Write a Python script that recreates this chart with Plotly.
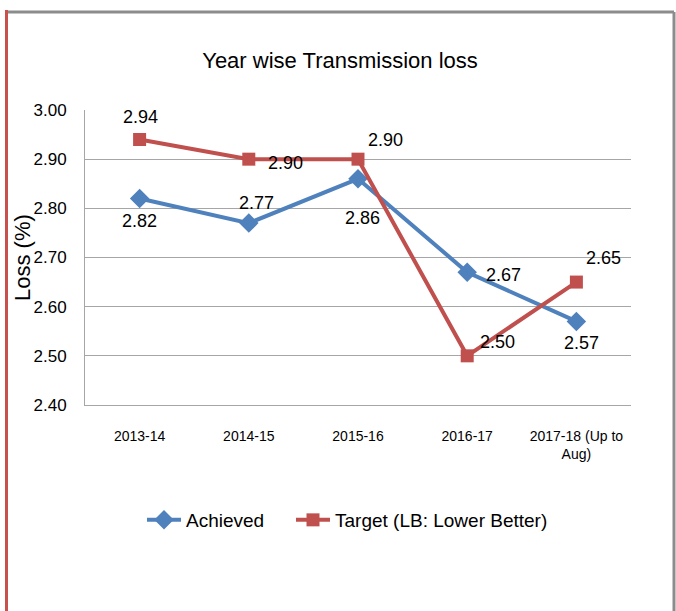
import plotly.graph_objects as go

categories = ["2013-14", "2014-15", "2015-16", "2016-17", "2017-18 (Up to<br>Aug)"]
achieved = [2.82, 2.77, 2.86, 2.67, 2.57]
target = [2.94, 2.90, 2.90, 2.50, 2.65]

# label offsets in pixels (dx, dy) relative to the marker
ach_off = [(0, -22), (8, 20), (4, -39), (36, -3), (5, -22)]
tgt_off = [(1, 23), (37, -4), (27, 19), (30, 14), (27, 24)]

BLUE = "#4F81BD"
RED = "#C0504D"
FONT = "Liberation Sans, Arial, sans-serif"

W, H = 676, 611
L, T = 85, 110
PR, PB = 631, 405
R, B = W - PR, H - PB
pw, ph = PR - L, PB - T


def px(x):
    return (x - L) / pw


def py(y):
    return (PB - y) / ph


fig = go.Figure()
fig.add_trace(go.Scatter(
    x=categories, y=achieved, name="Achieved", mode="lines+markers",
    line=dict(color=BLUE, width=4),
    marker=dict(symbol="diamond", size=15, color=BLUE),
    legend="legend",
))
fig.add_trace(go.Scatter(
    x=categories, y=target, name="Target (LB: Lower Better)", mode="lines+markers",
    line=dict(color=RED, width=4),
    marker=dict(symbol="square", size=13, color=RED),
    legend="legend2",
))

annotations = []
for cat, v, (dx, dy) in zip(categories, achieved, ach_off):
    annotations.append(dict(x=cat, y=v, text=f"{v:.2f}", showarrow=False,
                            xshift=dx, yshift=dy, xanchor="center", yanchor="middle",
                            font=dict(family=FONT, size=18, color="black")))
for cat, v, (dx, dy) in zip(categories, target, tgt_off):
    annotations.append(dict(x=cat, y=v, text=f"{v:.2f}", showarrow=False,
                            xshift=dx, yshift=dy, xanchor="center", yanchor="middle",
                            font=dict(family=FONT, size=18, color="black")))
annotations.append(dict(xref="paper", yref="paper", x=px(22), y=py(258),
                        xanchor="center", yanchor="middle",
                        text="Loss (%)", textangle=-90, showarrow=False,
                        font=dict(family=FONT, size=22, color="black")))

shapes = [
    dict(type="line", xref="paper", yref="paper", x0=px(8), x1=px(674), y0=py(12), y1=py(12),
         line=dict(color="#8C8C8C", width=3)),
    dict(type="line", xref="paper", yref="paper", x0=px(674), x1=px(674), y0=py(12), y1=py(611),
         line=dict(color="#8C8C8C", width=3)),
    dict(type="line", xref="paper", yref="paper", x0=px(6.5), x1=px(6.5), y0=py(10), y1=py(611),
         line=dict(color="#C9504D", width=3)),
]

legend_common = dict(orientation="h", yanchor="middle", y=py(520), xanchor="left",
                     font=dict(family=FONT, size=19, color="black"),
                     itemwidth=34, bgcolor="rgba(0,0,0,0)")

fig.update_layout(
    width=W, height=H,
    margin=dict(l=L, r=R, t=T, b=B),
    paper_bgcolor="white", plot_bgcolor="white",
    title=dict(text="Year wise Transmission loss", x=340 / W, xanchor="center",
               y=1 - 60 / H, yanchor="middle", yref="container",
               font=dict(family=FONT, size=22, color="black")),
    xaxis=dict(range=[-0.5, len(categories) - 0.5],
               showgrid=False, showline=True, linecolor="#A6A6A6", linewidth=1,
               ticks="", tickfont=dict(family=FONT, size=14, color="black"),
               ticklabelstandoff=18, fixedrange=True),
    yaxis=dict(range=[2.4, 3.0], dtick=0.1, tickformat=".2f",
               showgrid=True, gridcolor="#A6A6A6", gridwidth=1,
               showline=True, linecolor="#A6A6A6", linewidth=1, zeroline=False,
               ticks="", tickfont=dict(family=FONT, size=17, color="black"),
               ticklabelstandoff=14, fixedrange=True),
    legend=dict(x=px(142), **legend_common),
    legend2=dict(x=px(291), **legend_common),
    showlegend=True,
    annotations=annotations,
    shapes=shapes,
)

fig.write_html("out.html", config={"displayModeBar": False},
               post_script="document.body.style.margin='0';document.body.style.overflow='hidden';")
